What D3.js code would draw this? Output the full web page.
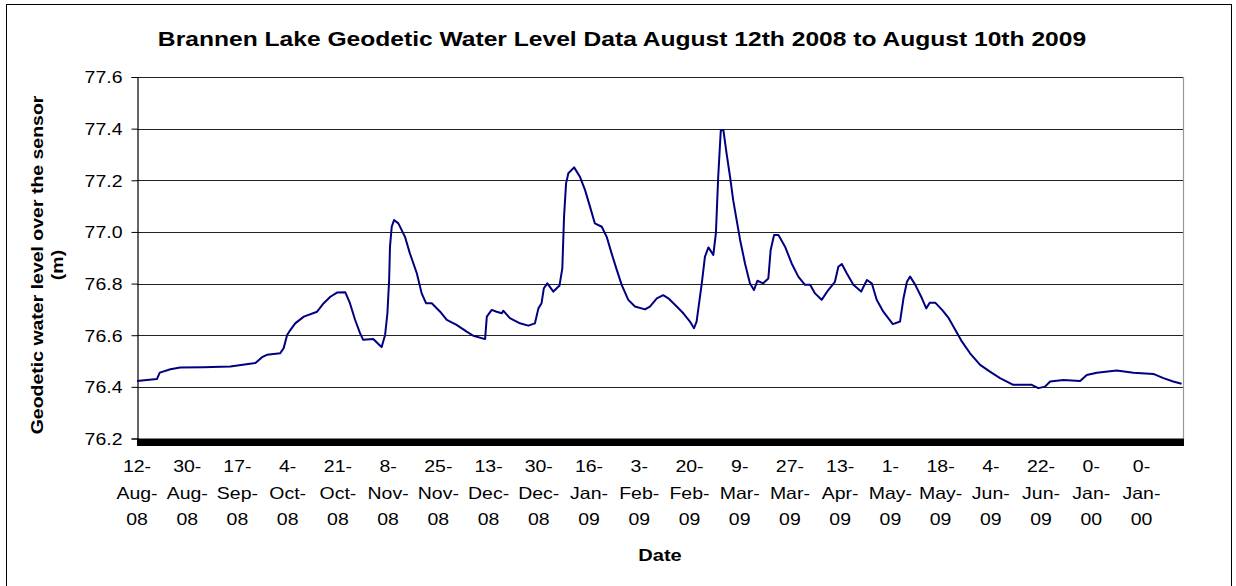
<!DOCTYPE html>
<html>
<head>
<meta charset="utf-8">
<script src="https://cdn.jsdelivr.net/npm/d3@7"></script>
<style>
  html, body { margin: 0; padding: 0; background: #fff; }
  svg { display: block; }
  text { font-family: "Liberation Sans", Arial, sans-serif; fill: #000; }
</style>
</head>
<body>
<svg id="chart" width="1236" height="586"></svg>
<script>
// ---- DATA ----
const chartTitle = "Brannen Lake Geodetic Water Level Data August 12th 2008 to August 10th 2009";
const yAxisTitle = ["Geodetic water level over the sensor", "(m)"];
const xAxisTitle = "Date";

// days since 12-Aug-2008
const dayOffset = [0.0, 6.9, 7.9, 11.6, 15.0, 23.1, 32.4, 41.1, 43.4, 45.1, 49.7, 50.9, 52.1, 53.2, 54.9, 57.9, 62.5, 64.8, 67.1, 69.4,
  72.3, 73.9, 75.7, 77.4, 78.5, 82.0, 84.3, 84.9, 86.1, 86.9, 87.5, 87.8, 88.4, 89.2, 90.7, 93.0, 94.7, 97.1, 98.8, 100.3,
  102.3, 105.2, 107.5, 110.9, 114.4, 116.7, 120.8, 121.4, 123.1, 124.8, 126.6, 127.1, 129.4, 132.9, 135.8, 138.1, 139.3, 140.4, 141.2, 142.4,
  144.5, 146.2, 146.6, 147.6, 148.2, 148.9, 149.7, 151.7, 153.7, 155.5, 157.2, 158.9, 161.3, 163.0, 164.7, 166.5, 168.2, 170.5, 172.8, 176.3,
  178.0, 180.4, 182.6, 184.4, 187.3, 189.6, 191.9, 193.3, 194.2, 196.0, 197.1, 198.3, 200.0, 200.9, 201.7, 202.6, 203.5, 204.6, 205.8, 206.9,
  208.1, 209.3, 211.0, 212.7, 214.1, 215.3, 217.3, 219.1, 219.9, 221.1, 222.6, 224.9, 227.2, 229.5, 231.8, 233.6, 235.3, 237.6, 239.9, 242.2,
  243.4, 244.6, 246.3, 248.6, 251.3, 253.3, 255.0, 256.7, 259.0, 262.3, 264.8, 266.0, 267.2, 268.3, 270.1, 272.4, 273.9, 275.1, 277.0, 279.4,
  281.7, 284.0, 286.3, 289.1, 292.6, 296.0, 299.5, 304.1, 308.8, 310.5, 312.8, 315.1, 316.9, 321.5, 327.3, 329.6, 333.1, 340.0, 345.8, 352.7,
  356.2, 359.6, 362.5];
const waterLevel = [76.423, 76.430, 76.455, 76.468, 76.475, 76.476, 76.479, 76.492, 76.515, 76.524, 76.530, 76.550, 76.601, 76.620, 76.646, 76.672, 76.691, 76.724, 76.749, 76.765,
  76.766, 76.724, 76.659, 76.608, 76.582, 76.585, 76.560, 76.554, 76.601, 76.685, 76.814, 76.943, 77.020, 77.046, 77.033, 76.981, 76.917, 76.840, 76.762, 76.724,
  76.724, 76.691, 76.659, 76.640, 76.614, 76.598, 76.585, 76.672, 76.698, 76.691, 76.685, 76.695, 76.666, 76.646, 76.637, 76.646, 76.704, 76.724, 76.782, 76.801,
  76.769, 76.788, 76.791, 76.859, 77.059, 77.188, 77.227, 77.250, 77.214, 77.162, 77.098, 77.033, 77.020, 76.981, 76.917, 76.853, 76.795, 76.737, 76.711, 76.700,
  76.711, 76.743, 76.755, 76.743, 76.711, 76.685, 76.653, 76.627, 76.653, 76.801, 76.904, 76.940, 76.911, 76.995, 77.214, 77.394, 77.394, 77.304, 77.214, 77.123,
  77.046, 76.969, 76.878, 76.801, 76.775, 76.811, 76.801, 76.820, 76.930, 76.988, 76.988, 76.943, 76.878, 76.827, 76.795, 76.795, 76.762, 76.737, 76.775, 76.807,
  76.865, 76.876, 76.840, 76.795, 76.769, 76.814, 76.801, 76.737, 76.691, 76.643, 76.653, 76.743, 76.807, 76.827, 76.795, 76.743, 76.704, 76.726, 76.726, 76.698,
  76.666, 76.620, 76.575, 76.530, 76.485, 76.459, 76.434, 76.408, 76.408, 76.408, 76.395, 76.401, 76.421, 76.427, 76.423, 76.446, 76.455, 76.463, 76.455, 76.450,
  76.434, 76.421, 76.412];

const xTickLabels = ["12-Aug-08", "30-Aug-08", "17-Sep-08", "4-Oct-08", "21-Oct-08", "8-Nov-08", "25-Nov-08", "13-Dec-08",
  "30-Dec-08", "16-Jan-09", "3-Feb-09", "20-Feb-09", "9-Mar-09", "27-Mar-09", "13-Apr-09", "1-May-09", "18-May-09",
  "4-Jun-09", "22-Jun-09", "0-Jan-00", "0-Jan-00"];
const xTickStepDays = 17.43;
const xDomain = [0, 363];
const yDomain = [76.2, 77.6];
const yTicks = [76.2, 76.4, 76.6, 76.8, 77.0, 77.2, 77.4, 77.6];

// ---- LAYOUT ----
const svg = d3.select("#chart");
const W = 1236, H = 586;
const plot = { left: 137, right: 1183, top: 77, bottom: 438.5 };
const STRETCH = 1.18;

function stretch(sel, k) {
  sel.each(function () {
    const w = this.getComputedTextLength();
    this.setAttribute("textLength", w * k);
    this.setAttribute("lengthAdjust", "spacingAndGlyphs");
  });
}

svg.append("rect").attr("x", 0).attr("y", 0).attr("width", W).attr("height", H).attr("fill", "#fff");
svg.append("rect").attr("x", 6.5).attr("y", 4.5).attr("width", 1225).attr("height", 600)
  .attr("fill", "none").attr("stroke", "#000").attr("stroke-width", 1);

const x = d3.scaleLinear().domain(xDomain).range([plot.left, plot.right]);
const y = d3.scaleLinear().domain(yDomain).range([plot.bottom, plot.top]);

// gridlines
svg.append("g").selectAll("line").data(yTicks.filter(d => d > yDomain[0])).join("line")
  .attr("x1", plot.left).attr("x2", plot.right)
  .attr("y1", d => Math.round(y(d)) + 0.5).attr("y2", d => Math.round(y(d)) + 0.5)
  .attr("stroke", "#222").attr("stroke-width", 1);

// right plot border (grey)
svg.append("line").attr("x1", plot.right + 0.5).attr("x2", plot.right + 0.5)
  .attr("y1", plot.top).attr("y2", plot.bottom).attr("stroke", "#999").attr("stroke-width", 1.2);

// y axis
const yAxis = d3.axisLeft(y).tickValues(yTicks).tickFormat(d3.format(".1f")).tickSize(6).tickPadding(9);
const gy = svg.append("g").attr("transform", `translate(${plot.left + 0.5},0)`).call(yAxis);
gy.select(".domain").attr("stroke", "#000").attr("stroke-width", 1.2);
gy.selectAll(".tick line").attr("stroke", "#000");
gy.selectAll(".tick text").attr("font-size", 16.5).attr("font-family", '"Liberation Sans", Arial, sans-serif')
  .attr("fill", "#000").attr("dy", "0.36em");
stretch(gy.selectAll(".tick text"), STRETCH);

// x axis: dense category ticks form a solid black band
svg.append("rect").attr("x", x(xDomain[0])).attr("y", plot.bottom)
  .attr("width", x(xDomain[1]) - x(xDomain[0]) + 1).attr("height", 7.5).attr("fill", "#000");

// x tick labels (three lines each)
const xl = svg.append("g");
xTickLabels.forEach((lab, i) => {
  const parts = lab.split("-");
  const lines = [parts[0] + "-", parts[1] + "-", parts[2]];
  const cx = x(i * xTickStepDays);
  lines.forEach((t, j) => {
    xl.append("text").attr("x", cx).attr("y", 472 + j * 26.5)
      .attr("text-anchor", "middle").attr("font-size", 16.5).text(t);
  });
});
stretch(xl.selectAll("text"), STRETCH);

// series line
const line = d3.line().x((d, i) => x(dayOffset[i])).y(d => y(d));
svg.append("path").datum(waterLevel).attr("d", line)
  .attr("fill", "none").attr("stroke", "#000080").attr("stroke-width", 2)
  .attr("stroke-linejoin", "round");

// titles
const t = svg.append("text").attr("x", 622).attr("y", 46).attr("text-anchor", "middle")
  .attr("font-size", 20.5).attr("font-weight", "bold").text(chartTitle);
stretch(t, 1.2);

const xt = svg.append("text").attr("x", 660).attr("y", 561).attr("text-anchor", "middle")
  .attr("font-size", 17).attr("font-weight", "bold").text(xAxisTitle);
stretch(xt, STRETCH);

const yt = svg.append("g");
yAxisTitle.forEach((s, j) => {
  yt.append("text").attr("transform", `translate(${43 + j * 20},${265}) rotate(-90)`)
    .attr("text-anchor", "middle").attr("font-size", 16.5).attr("font-weight", "bold").text(s);
});
stretch(yt.selectAll("text"), STRETCH);
</script>
</body>
</html>
